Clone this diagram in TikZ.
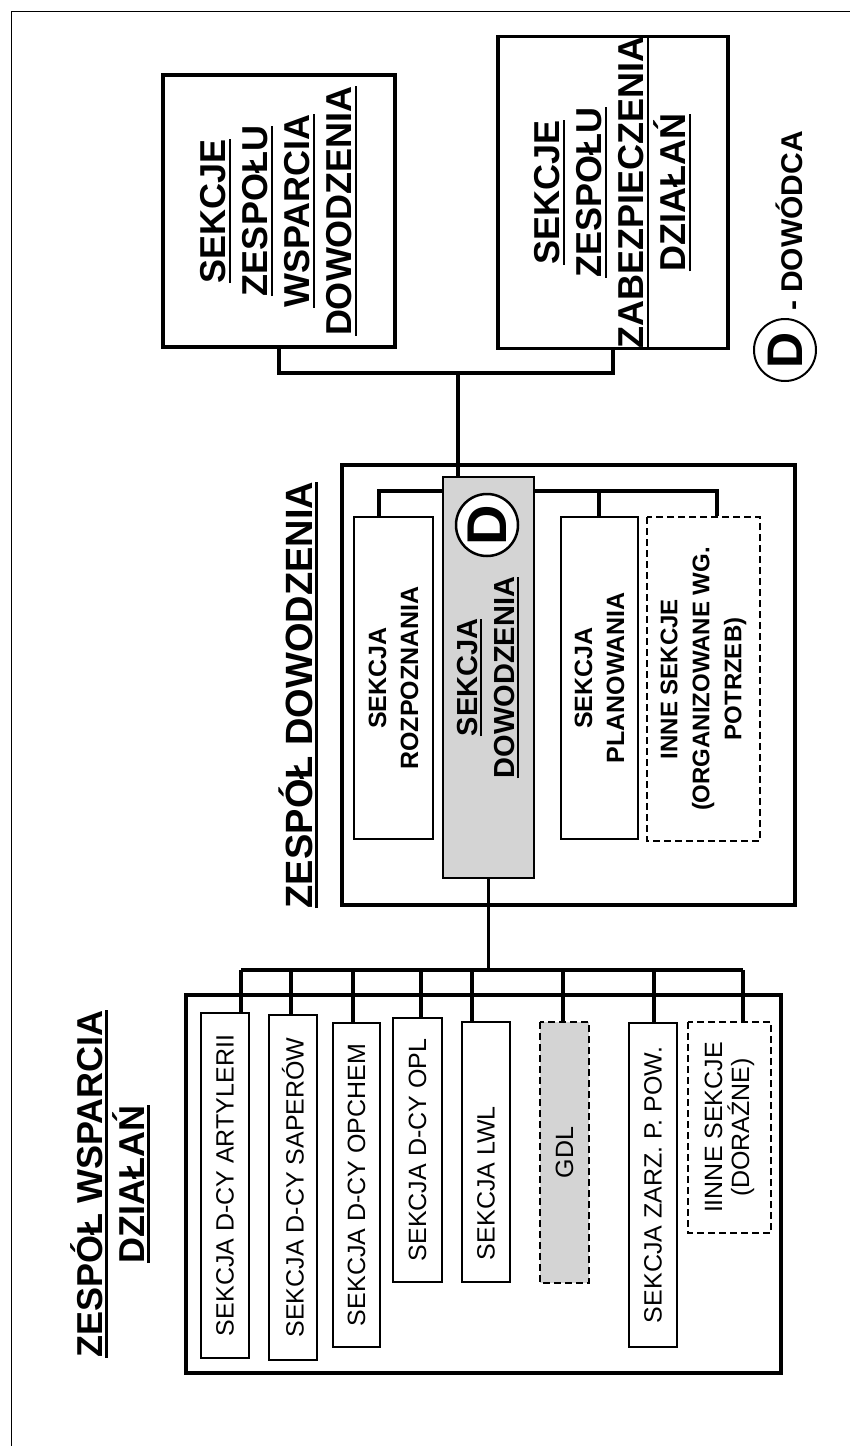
\documentclass[tikz,border=0pt]{standalone}
\usepackage{fontspec}
\setmainfont{Liberation Sans}
\newcommand{\podkr}[1]{\setbox0=\hbox{#1}\rlap{\rule[-0.16em]{\wd0}{0.08em}}\box0}
\newcommand{\duzy}{\fontsize{36}{42}\selectfont\bfseries}
\newcommand{\sredni}{\fontsize{25}{32}\selectfont\bfseries}
\newcommand{\maly}{\fontsize{25}{27}\selectfont}

\begin{document}
\begin{tikzpicture}[x=1pt, y=1pt,
	gruba/.style={draw, line width=3.5pt, inner sep=0pt},
	sekcja/.style={draw, line width=1.5pt, rotate=90, inner sep=0pt, align=center},
	dorazna/.style={sekcja, dashed, dash pattern=on 7pt off 4pt},
	linia/.style={line width=3.5pt},
	dowodca/.style={circle, draw, fill=white, line width=2.5pt, minimum size=62pt, inner sep=0pt, rotate=90}]

	\useasboundingbox (0,0) rectangle (850,-1446);
	\draw[line width=1pt] (11,-1446) -- (11,-11) -- (850,-11);

	\node (szwd) [gruba, rotate=90, align=center, minimum width=272pt, minimum height=232pt, font=\duzy] at (279,-211) {\podkr{SEKCJE}\\\podkr{ZESPOŁU}\\\podkr{WSPARCIA}\\\podkr{DOWODZENIA}};
	\node (szzd) [gruba, rotate=90, align=center, minimum width=311pt, minimum height=230pt, font=\duzy] at (613,-192.5) {\podkr{SEKCJE}\\\podkr{ZESPOŁU}\\\podkr{ZABEZPIECZENIA}\\\podkr{DZIAŁAŃ}};

	\node (dleg) [dowodca, line width=2pt, font=\fontsize{50}{50}\selectfont\bfseries] at (785,-350) {D};
	\node (tleg) [rotate=90, anchor=base, font=\fontsize{30}{30}\selectfont\bfseries] at (802,-221) {- DOWÓDCA};

	\node (zd) [gruba, minimum width=453pt, minimum height=440pt] at (568.5,-685) {};
	\node (tzd) [rotate=90, anchor=base, font=\fontsize{38}{44}\selectfont\bfseries] at (312,-695) {\podkr{ZESPÓŁ DOWODZENIA}};

	\node (rozp) [sekcja, minimum width=322pt, minimum height=79pt, font=\sredni] at (393.5,-678) {SEKCJA\\ROZPOZNANIA};
	\node (plan) [sekcja, minimum width=322pt, minimum height=77pt, font=\sredni] at (599.5,-678) {SEKCJA\\PLANOWANIA};
	\node (inne) [dorazna, minimum width=324pt, minimum height=113pt, font=\fontsize{24}{32}\selectfont\bfseries] at (703.5,-679) {INNE SEKCJE\\(ORGANIZOWANE WG.\\POTRZEB)};

	\coordinate (kr) at (379,-491);
	\coordinate (kp) at (599,-491);
	\coordinate (ki) at (717,-491);
	\draw[linia] (kr |- rozp.east) -- (kr) -- (ki) -- (ki |- inne.east);
	\draw[linia] (kp) -- (kp |- plan.east);

	\node (sd) [sekcja, fill=black!17, minimum width=401pt, minimum height=91pt, font=\fontsize{29}{37}\selectfont\bfseries] at (488.5,-677.5) {\podkr{SEKCJA}\\\podkr{DOWODZENIA}};
	\node (dsd) [dowodca, font=\fontsize{56}{56}\selectfont\bfseries] at (487,-525) {D};

	\coordinate (wezel) at (458,-373);
	\draw[linia] (szwd.west) |- (wezel) -| (szzd.west);
	\draw[linia] (wezel) -- (wezel |- sd.east);

	\node (zwd) [gruba, minimum width=595pt, minimum height=378pt] at (483.5,-1184) {};
	\node (tzwd) [rotate=90, align=center, font=\duzy] at (110,-1184) {\podkr{ZESPÓŁ WSPARCIA}\\\podkr{DZIAŁAŃ}};

	\node (s1) [sekcja, minimum width=345pt, minimum height=48pt, font=\maly] at (225,-1185.5) {SEKCJA D-CY ARTYLERII};
	\node (s2) [sekcja, minimum width=345pt, minimum height=48pt, font=\maly] at (293,-1187.5) {SEKCJA D-CY SAPERÓW};
	\node (s3) [sekcja, minimum width=324pt, minimum height=47pt, font=\maly] at (356.5,-1185) {SEKCJA D-CY OPCHEM};
	\node (s4) [sekcja, minimum width=264pt, minimum height=49pt, font=\maly] at (417.5,-1150) {SEKCJA D-CY OPL};
	\node (s5) [sekcja, minimum width=260pt, minimum height=48pt, font=\maly] at (486,-1152) {\makebox[216pt][l]{SEKCJA LWL}};
	\node (s6) [dorazna, fill=black!17, minimum width=261pt, minimum height=49pt, font=\maly] at (564.5,-1152.5) {GDL};
	\node (s7) [sekcja, minimum width=324pt, minimum height=48pt, font=\maly] at (653,-1185) {SEKCJA ZARZ. P. POW.};
	\node (s8) [dorazna, minimum width=211pt, minimum height=83pt, font=\maly] at (729.5,-1127.5) {IINNE SEKCJE\\(DORAŹNE)};

	\coordinate (b1) at (241,-970);
	\coordinate (b2) at (291,-970);
	\coordinate (b3) at (353,-970);
	\coordinate (b4) at (421,-970);
	\coordinate (b5) at (472,-970);
	\coordinate (b6) at (563,-970);
	\coordinate (b7) at (654,-970);
	\coordinate (b8) at (743,-970);
	\draw[linia] (sd.west) -- (sd.west |- b1);
	\draw[linia] (b1) -- (b8);
	\draw[linia] (b1) -- (b1 |- s1.east);
	\draw[linia] (b2) -- (b2 |- s2.east);
	\draw[linia] (b3) -- (b3 |- s3.east);
	\draw[linia] (b4) -- (b4 |- s4.east);
	\draw[linia] (b5) -- (b5 |- s5.east);
	\draw[linia] (b6) -- (b6 |- s6.east);
	\draw[linia] (b7) -- (b7 |- s7.east);
	\draw[linia] (b8) -- (b8 |- s8.east);

\end{tikzpicture}
\end{document}
